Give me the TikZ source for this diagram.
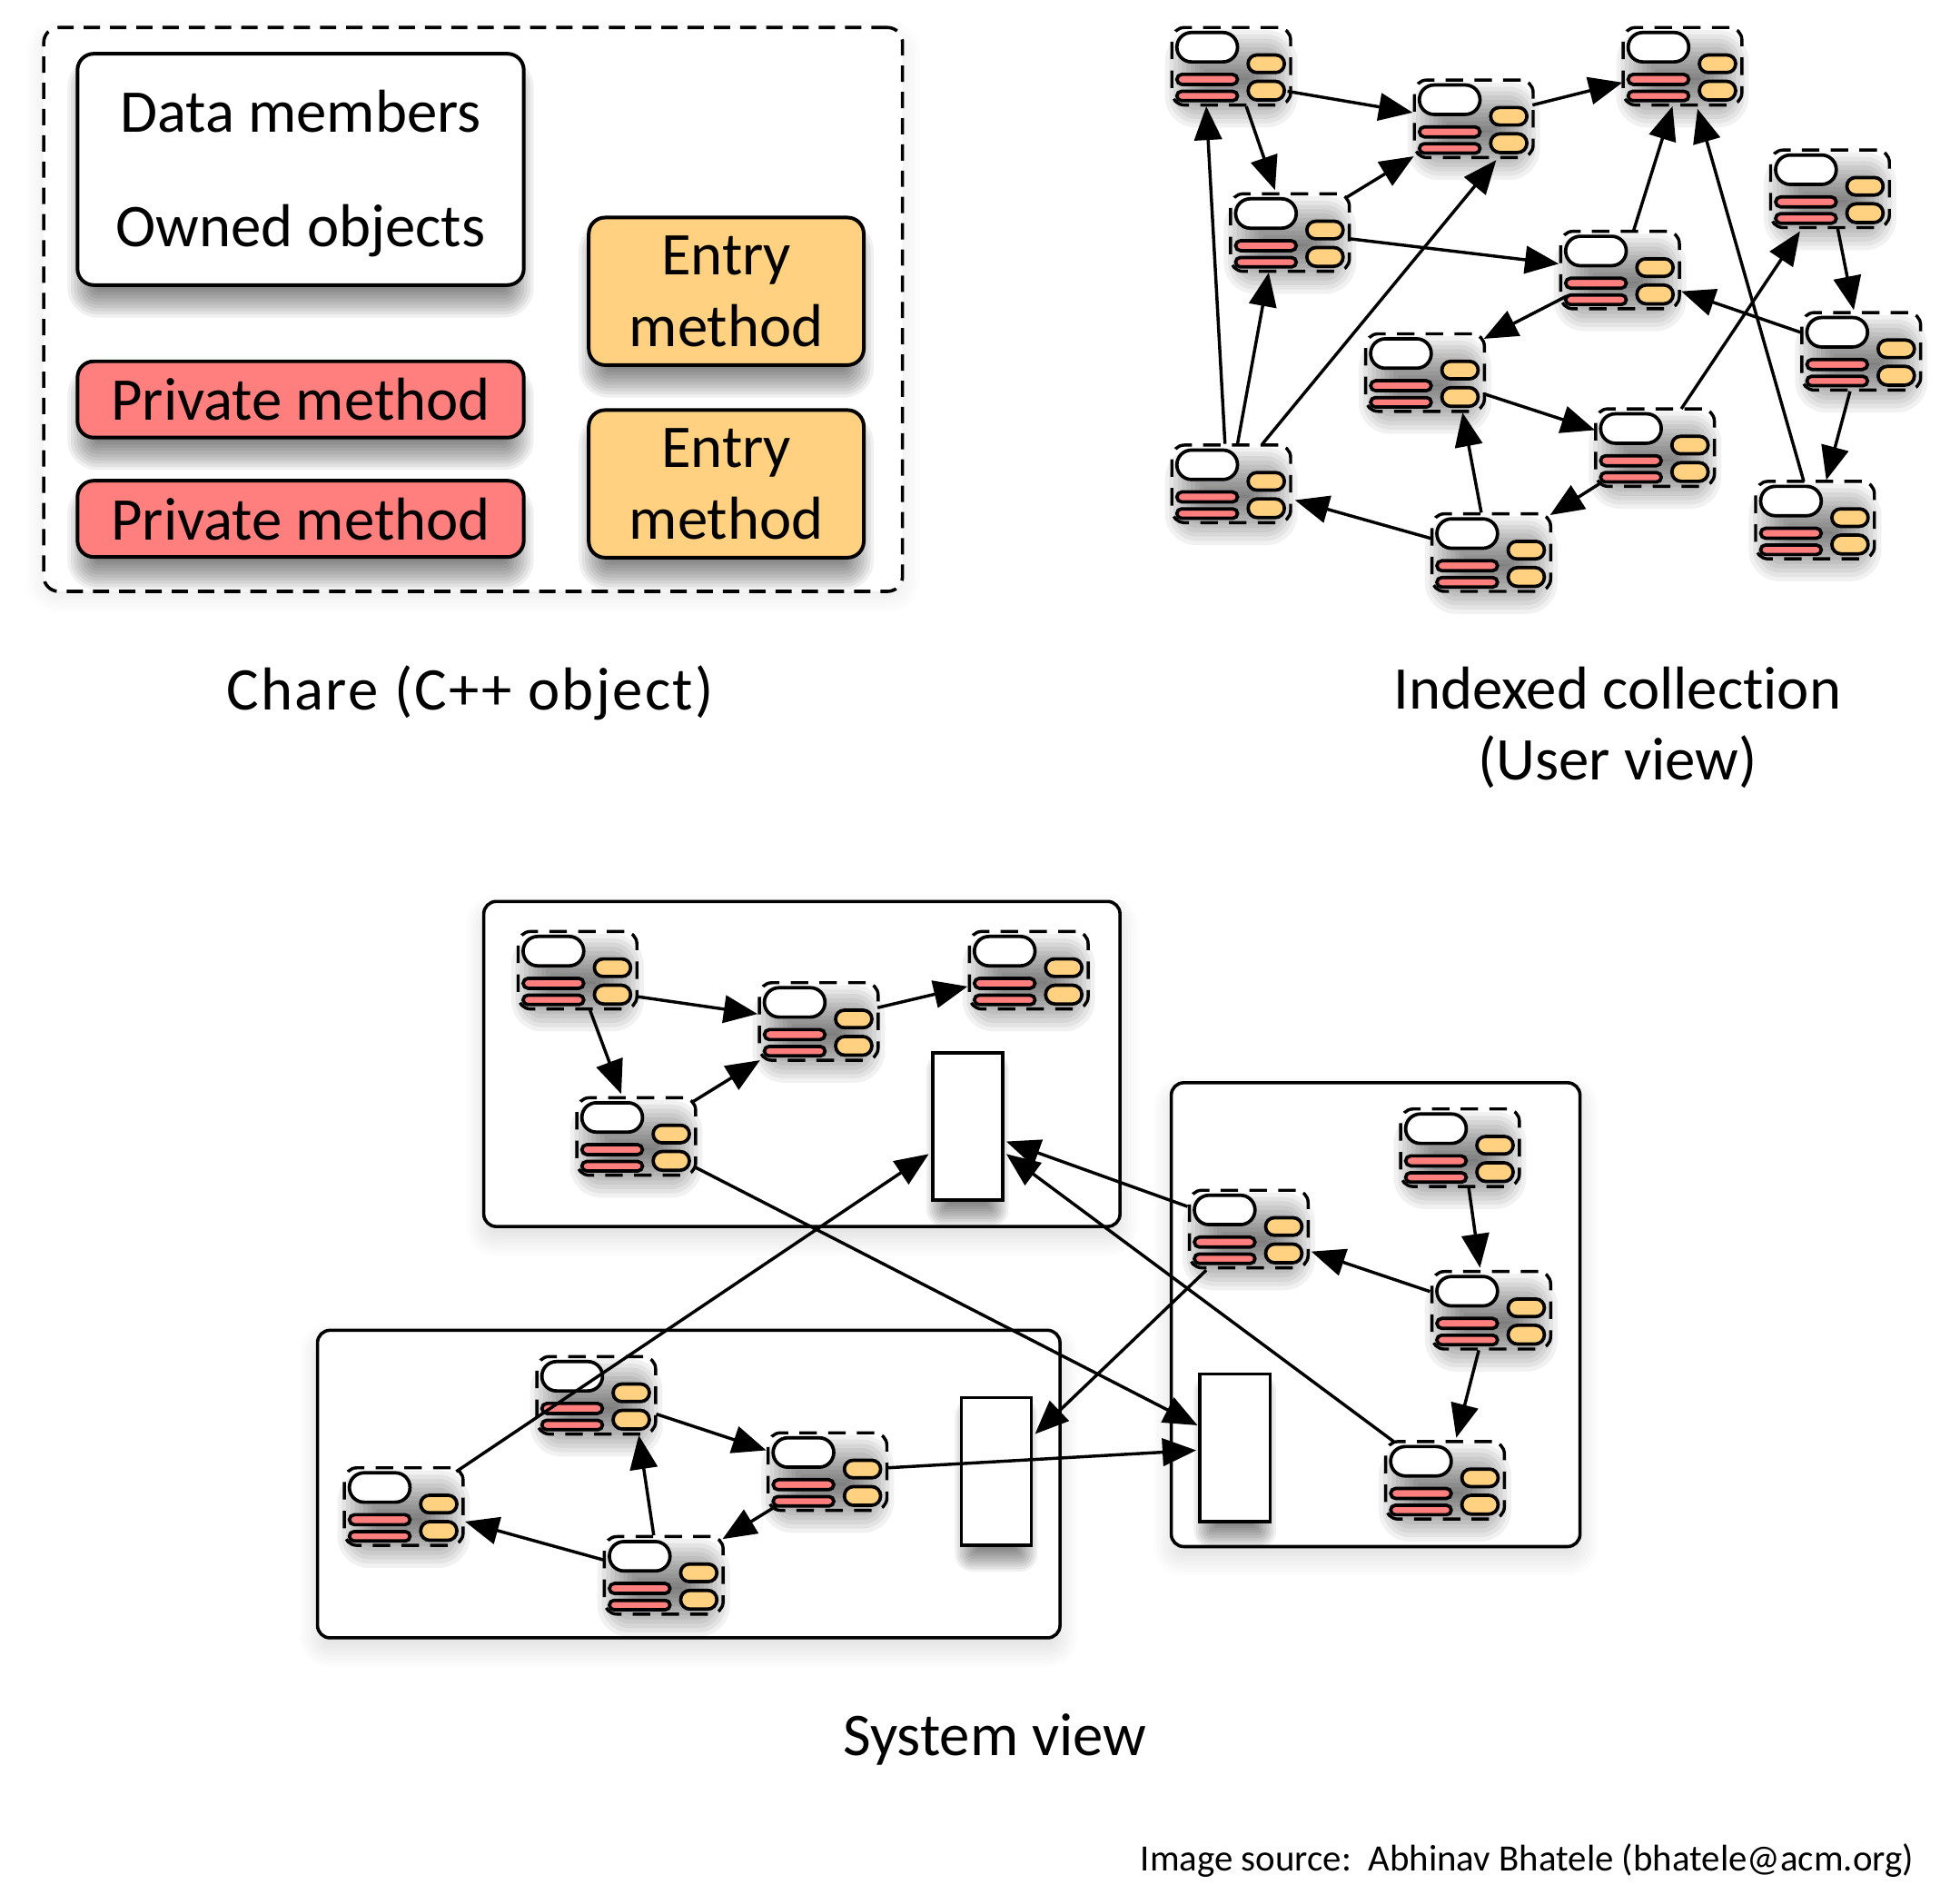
\documentclass[tikz,border=0pt]{standalone}
\usepackage{fontspec}
\setmainfont{Carlito}[Ligatures=NoCommon]
\usetikzlibrary{arrows.meta}
\definecolor{redm}{HTML}{FF7F7F}
\definecolor{orgm}{HTML}{FFD180}
\newcommand{\softshadow}[7]{%
  \foreach \k in {0,...,11}{%
    \pgfmathsetmacro\ee{#5*(1-2*\k/11)}%
    \pgfmathsetmacro\rr{max(#7+\ee,1)}%
    \fill[black,opacity=#6,rounded corners=\rr pt] (#1-\ee,#2-\ee) rectangle (#3+\ee,#4+\ee);
  }}
\tikzset{
  x=1pt,y=-1pt,
  conn/.style={draw=black,line width=2.5pt,-{Triangle[length=27pt,width=22pt]}},
  boxbase/.style={draw=black,line width=2.9pt,rounded corners=13pt,inner sep=0pt,outer sep=0pt,align=center,font=\fontsize{48.5}{57}\selectfont},
  whitebox/.style={boxbase,fill=white,minimum width=357pt,minimum height=185pt,font=\fontsize{48.5}{91}\selectfont},
  redbox/.style={boxbase,fill=redm,minimum width=357pt,minimum height=61pt},
  orgbox/.style={boxbase,fill=orgm,minimum width=220pt,minimum height=118pt},
  dashbox/.style={draw=black,fill=white,line width=2.6pt,dash pattern=on 13pt off 8pt,rounded corners=12pt,inner sep=0pt,outer sep=0pt,minimum width=687pt,minimum height=451pt},
  charebox/.style={draw=black,line width=2.5pt,dash pattern=on 14pt off 9pt,rounded corners=10pt,inner sep=0pt,outer sep=0pt,minimum width=95pt,minimum height=62pt},
  part/.style={draw=black,line width=2.7pt},
  host/.style={draw=black,fill=white,line width=2.6pt,rounded corners=10pt,inner sep=0pt,outer sep=0pt},
  buffer/.style={draw=black,fill=white,line width=2.6pt,inner sep=0pt,outer sep=0pt,minimum width=56pt,minimum height=118pt},
  caption/.style={inner sep=0pt,outer sep=0pt,align=center,font=\fontsize{48.5}{57}\selectfont},
}
\newcommand{\chare}[3]{%
  \softshadow{#2-34}{#3-10}{#2+34}{#3+30}{19}{.055}{6}%
  \node[charebox] (#1) at (#2,#3) {};
  \draw[part,fill=white,rounded corners=11.7pt] (#2-43.5,#3-27) rectangle (#2+5,#3-3.5);
  \draw[part,fill=redm,rounded corners=4pt] (#2-43.5,#3+6.5) rectangle (#2+5,#3+14.5);
  \draw[part,fill=redm,rounded corners=3.7pt] (#2-43.5,#3+20) rectangle (#2+5,#3+27.5);
  \draw[part,fill=orgm,rounded corners=6.9pt] (#2+13.5,#3-9) rectangle (#2+42.5,#3+5);
  \draw[part,fill=orgm,rounded corners=7.4pt] (#2+13.5,#3+12) rectangle (#2+42.5,#3+27);
}
\begin{document}
\begin{tikzpicture}
\useasboundingbox (0,0) rectangle (1568,1507);
% ---------- Chare
\softshadow{35}{30}{722}{476}{14}{.007}{12}
\node[dashbox] (outer) at (378.5,247.5) {};
\softshadow{68}{60}{413}{240}{14}{.06}{10}
\node[whitebox] (data) at (240.5,135.5) {\raisebox{-4pt}[0pt][0pt]{\begin{tabular}{@{}c@{}}Data members\\Owned objects\end{tabular}}};
\softshadow{68}{306}{413}{362}{14}{.06}{10}
\node[redbox] (priv1) at (240.5,319.5) {Private method};
\softshadow{68}{401}{413}{458}{14}{.06}{10}
\node[redbox] (priv2) at (240.5,415) {Private method};
\softshadow{477}{191}{685}{304}{14}{.06}{10}
\node[orgbox] (entry1) at (581,233) {Entry\\method};
\softshadow{477}{345}{685}{458}{14}{.06}{10}
\node[orgbox] (entry2) at (581,387) {Entry\\method};
\node[caption] (cap1) at (376,554) {\addfontfeature{LetterSpace=3.5}Chare (C++ object)};
\node[caption] (cap2) at (1294,582) {Indexed collection\\(User view)};
\node[caption] (cap3) at (796,1391) {System view};
\node[inner sep=0pt,outer sep=0pt,anchor=east,font=\fontsize{29.7}{36}\selectfont] (src) at (1531,1488) {Image source:\ \ Abhinav Bhatele (bhatele@acm.org)};
% ---------- Indexed collection
\chare{A}{985}{53}
\chare{B}{1179}{95}
\chare{C}{1346}{53}
\chare{D}{1032}{186}
\chare{E}{1296}{216}
\chare{F}{1464}{151}
\chare{G}{1489}{281}
\chare{H}{1140}{298}
\chare{I}{1324}{358}
\chare{J}{985}{387}
\chare{K}{1193}{442}
\chare{L}{1452}{416}
\draw[conn] ([shift={(45,20)}]A.center) -- ([shift={(-49,-5)}]B.center);
\draw[conn] ([shift={(12,32)}]A.center) -- ([shift={(-12,-34)}]D.center);
\draw[conn] ([shift={(47,-11)}]B.center) -- ([shift={(-48,13)}]C.center);
\draw[conn] ([shift={(45,-28)}]D.center) -- ([shift={(-48,30)}]B.center);
\draw[conn] ([shift={(48,5)}]D.center) -- ([shift={(-49,-5)}]E.center);
\draw[conn] ([shift={(11,-32)}]E.center) -- ([shift={(-8,32)}]C.center);
\draw[conn] ([shift={(-43,21)}]E.center) -- ([shift={(47,-27)}]H.center);
\draw[conn] ([shift={(-48,-15)}]G.center) -- ([shift={(49,17)}]E.center);
\draw[conn] ([shift={(6,31)}]F.center) -- ([shift={(-6,-33)}]G.center);
\draw[conn] ([shift={(-9,32)}]G.center) -- ([shift={(9,-32)}]L.center);
\draw[conn] ([shift={(47,17)}]H.center) -- ([shift={(-48,-14)}]I.center);
\draw[conn] ([shift={(21,-31)}]I.center) -- ([shift={(-24,34)}]F.center);
\draw[conn] ([shift={(-43,28)}]I.center) -- ([shift={(47,-30)}]K.center);
\draw[conn] ([shift={(-8,-32)}]K.center) -- ([shift={(30,32)}]H.center);
\draw[conn] ([shift={(-47,-11)}]K.center) -- ([shift={(51,13)}]J.center);
\draw[conn] ([shift={(-5,-32)}]J.center) -- ([shift={(-20,32)}]A.center);
\draw[conn] ([shift={(5,-32)}]J.center) -- ([shift={(-17,32)}]D.center);
\draw[conn] ([shift={(25,-32)}]J.center) -- ([shift={(18,33)}]B.center);
\draw[conn] ([shift={(-9,-31)}]L.center) -- ([shift={(12,34)}]C.center);
% ---------- System view: hosts
\softshadow{387}{730}{896}{990}{14}{.012}{10}
\softshadow{937}{875}{1264}{1246}{14}{.012}{10}
\softshadow{254}{1073}{848}{1319}{14}{.012}{10}
\node[host,minimum width=509pt,minimum height=260pt] (top) at (641.5,851) {};
\node[host,minimum width=327pt,minimum height=371pt] (right) at (1100.5,1051.5) {};
\node[host,minimum width=594pt,minimum height=246pt] (bottom) at (551,1187) {};
\softshadow{752}{853}{796}{970}{11}{.06}{3}
\softshadow{966}{1110}{1010}{1227}{11}{.06}{3}
\softshadow{775}{1129}{819}{1246}{11}{.06}{3}
\node[buffer] (r1) at (774,901) {};
\node[buffer] (r2) at (988,1158) {};
\node[buffer] (r3) at (797,1177) {};
\chare{a}{462}{776}
\chare{b}{655}{817}
\chare{c}{823}{776}
\chare{d}{509}{909}
\chare{e}{1168}{918}
\chare{f}{999}{983}
\chare{g}{1193}{1048}
\chare{h}{1156}{1184}
\chare{i}{477}{1116}
\chare{j}{662}{1177}
\chare{k}{323}{1205}
\chare{l}{531}{1260}
\draw[conn] ([shift={(47,21)}]a.center) -- ([shift={(-49,-6)}]b.center);
\draw[conn] ([shift={(10,32)}]a.center) -- ([shift={(-12,-34)}]d.center);
\draw[conn] ([shift={(47,-11)}]b.center) -- ([shift={(-49,13)}]c.center);
\draw[conn] ([shift={(44,-27)}]d.center) -- ([shift={(-47,31)}]b.center);
\draw[conn] ([shift={(46,24)}]d.center) -- ([shift={(-30,-18)}]r2.center);
\draw[conn] ([shift={(42,-28)}]k.center) -- ([shift={(-31,22)}]r1.center);
\draw[conn] ([shift={(-49,-18)}]f.center) -- ([shift={(31,12)}]r1.center);
\draw[conn] ([shift={(7,32)}]e.center) -- ([shift={(-9,-34)}]g.center);
\draw[conn] ([shift={(-49,-15)}]g.center) -- ([shift={(50,18)}]f.center);
\draw[conn] ([shift={(-10,32)}]g.center) -- ([shift={(9,-34)}]h.center);
\draw[conn] ([shift={(-41,-31)}]h.center) -- ([shift={(31,22)}]r1.center);
\draw[conn] ([shift={(-34,33)}]f.center) -- ([shift={(31,-30)}]r3.center);
\draw[conn] ([shift={(48,-3)}]j.center) -- ([shift={(-31,2)}]r2.center);
\draw[conn] ([shift={(48,15)}]i.center) -- ([shift={(-49,-17)}]j.center);
\draw[conn] ([shift={(-40,27)}]j.center) -- ([shift={(47,-29)}]l.center);
\draw[conn] ([shift={(-8,-32)}]l.center) -- ([shift={(34,32)}]i.center);
\draw[conn] ([shift={(-47,-12)}]l.center) -- ([shift={(49,12)}]k.center);
\end{tikzpicture}
\end{document}
